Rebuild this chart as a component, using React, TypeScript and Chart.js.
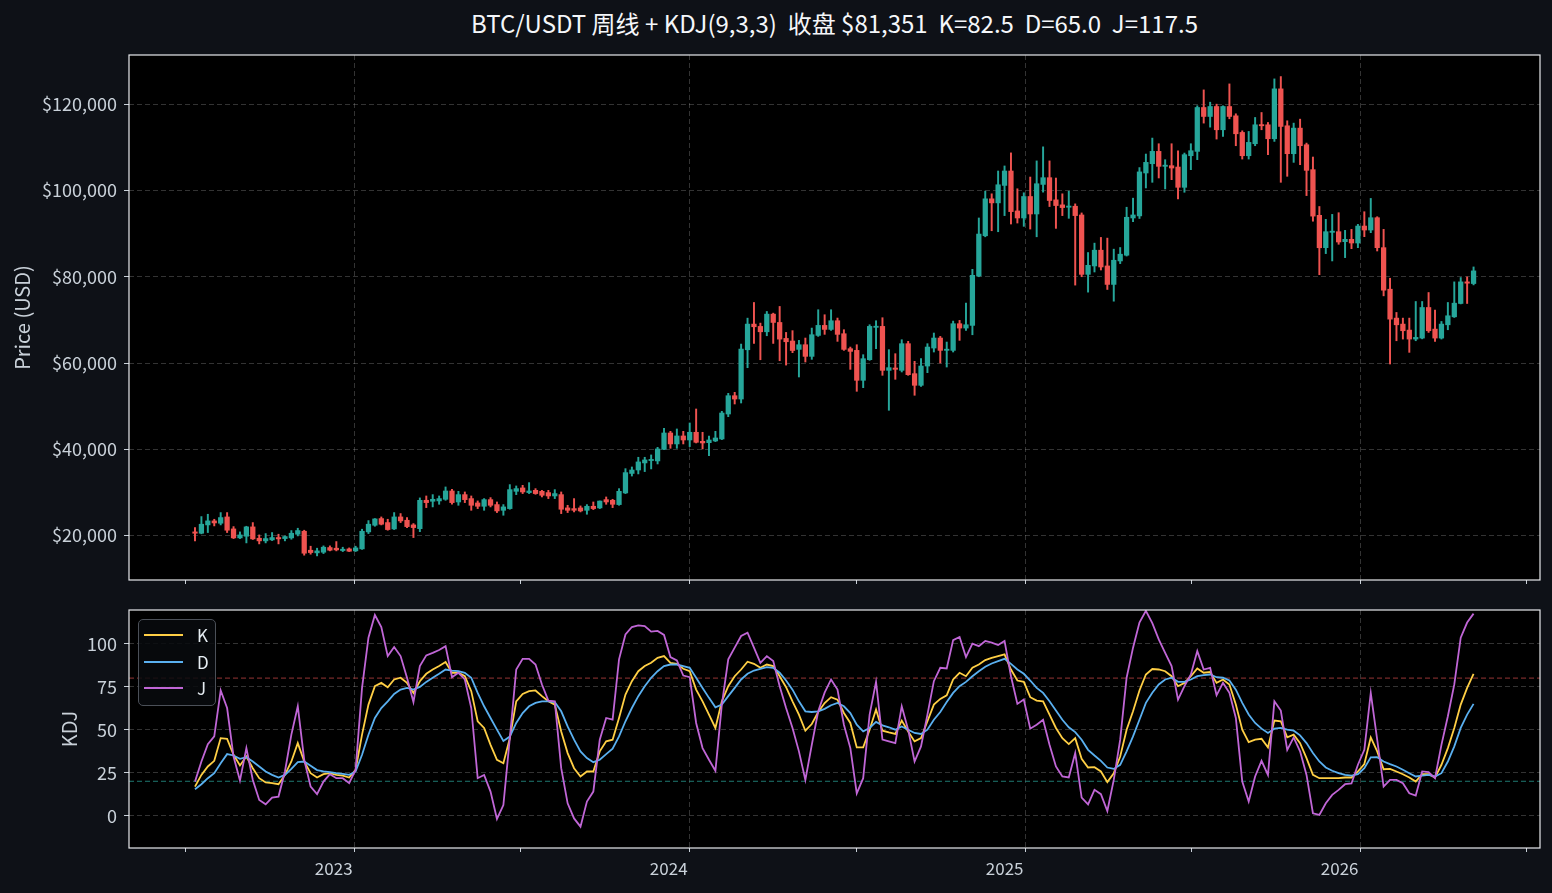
import { useEffect, useRef } from 'react'
import { Chart, registerables } from 'chart.js'

Chart.register(...registerables)

// weekly candles, first week starts Monday 2022-07-11
const FIRST_WEEK = Date.UTC(2022, 6, 11)
const WEEK_MS = 7 * 86400000

const opens = [
  20850, 20540, 22470, 23400, 22860, 24320, 21540, 19460, 19850, 22010,
  19380, 18770, 19000, 19540, 19300, 19460, 20310, 21000, 16600, 15990,
  16140, 17220, 17070, 16530, 16910, 16450, 16910, 20850, 22390, 23940,
  23010, 21540, 24320, 23550, 22470, 21600, 28180, 27950, 28030, 28410,
  30340, 27790, 29490, 28570, 27560, 26790, 28330, 27180, 25860, 26250,
  30260, 31040, 29960, 30490, 30260, 29960, 29180, 29490, 26410, 26250,
  26410, 25860, 26790, 26410, 28330, 28180, 27180, 29880, 34400, 35200,
  36840, 37380, 37300, 40000, 43780, 41240, 43090, 42160, 43940, 41850,
  41540, 41930, 42390, 48180, 52420, 51650, 63070, 69020, 68480, 67240,
  71330, 69400, 65700, 65100, 63160, 64240, 61540, 66400, 68720, 67790,
  69800, 66790, 63320, 62930, 55990, 60770, 68260, 68490, 58300, 58840,
  58300, 64480, 57530, 54830, 59300, 63470, 65790, 62930, 62930, 69110,
  68100, 68720, 80160, 89500, 98060, 97120, 101170, 104510, 95250, 93620,
  98600, 94550, 101400, 102960, 97820, 96660, 96110, 96340, 94320, 80550,
  82500, 86150, 82500, 78220, 83660, 84990, 93620, 94100, 104050, 106200,
  109060, 105590, 105740, 105430, 100730, 108050, 109060, 119230, 117150, 119460,
  114070, 119460, 117300, 113450, 108050, 110830, 115220, 115220, 111990, 123550,
  114990, 108520, 114450, 110600, 104820, 94240, 86740, 90290, 90440, 88130,
  88670, 87820, 91750, 90830, 93680, 86740, 77110, 70410, 69020, 67630,
  65550, 65780, 72870, 67860, 65780, 68860, 70710, 73800, 78810, 78420,
]
const highs = [
  21850, 24400, 24940, 23780, 25330, 25330, 22080, 20850, 22160, 23010,
  20150, 20460, 20700, 20310, 19920, 21160, 21700, 21240, 17530, 17070,
  17610, 17610, 18610, 17300, 17140, 17530, 21470, 23470, 23940, 24320,
  23780, 25330, 25100, 24170, 22780, 28730, 29180, 29490, 29180, 31270,
  30730, 30260, 30110, 29180, 28030, 28570, 28800, 27790, 27180, 31810,
  31500, 31650, 32270, 30880, 30490, 30490, 30650, 30110, 27020, 28570,
  26870, 27180, 27790, 28030, 28950, 28410, 30880, 35510, 35900, 38150,
  38150, 38690, 40460, 44860, 44170, 44710, 44170, 46100, 49340, 43940,
  43090, 44170, 48800, 52970, 53200, 64390, 70400, 74030, 69250, 71950,
  71560, 73110, 67090, 67500, 65250, 65790, 68100, 72350, 71190, 72350,
  70420, 67720, 63700, 64240, 61930, 68870, 69800, 70500, 63090, 62160,
  65400, 65020, 60390, 61000, 64480, 66950, 66170, 64860, 69720, 69880,
  73890, 81720, 93620, 99840, 99220, 104510, 105680, 108710, 100390, 99460,
  103110, 106850, 110110, 106850, 102880, 99220, 99840, 96890, 94790, 85610,
  87790, 89110, 88950, 86390, 86770, 96110, 98210, 105300, 108440, 112140,
  110830, 107130, 110830, 109210, 108670, 110830, 119620, 123310, 120460, 120000,
  119620, 124700, 117770, 113830, 113680, 116920, 118070, 115760, 125860, 126400,
  116150, 115610, 116530, 110980, 107750, 96280, 93300, 94450, 94840, 90750,
  90980, 92140, 95070, 98150, 93910, 90980, 79650, 71720, 70410, 70410,
  74260, 74260, 76340, 72260, 69630, 74030, 78810, 79810, 79960, 82270,
]
const lows = [
  18770, 20400, 20700, 22240, 22470, 20700, 19300, 19300, 18300, 19100,
  18070, 18300, 18840, 18070, 18770, 19150, 19920, 15450, 15680, 15290,
  15830, 16450, 16450, 16290, 16290, 16300, 16800, 20460, 22160, 22470,
  21240, 21390, 23010, 21850, 19540, 20900, 26480, 26640, 27250, 28180,
  27250, 27020, 27640, 25860, 26250, 25860, 26640, 25330, 24710, 26100,
  29490, 29730, 29730, 29570, 28950, 28570, 28570, 25090, 25330, 25480,
  25480, 24940, 26020, 26250, 27250, 26480, 27020, 29730, 33800, 34290,
  34830, 35450, 36600, 39900, 40230, 40230, 41240, 40620, 41470, 40080,
  38530, 41780, 42240, 47560, 50500, 50730, 58910, 64540, 60760, 66320,
  64540, 60530, 59520, 62400, 56760, 60230, 60850, 66170, 66640, 67560,
  65020, 62930, 58530, 53440, 54290, 60620, 63320, 57150, 49040, 56220,
  57920, 57150, 52520, 54600, 57760, 62550, 60000, 59070, 62550, 65250,
  67560, 66550, 80000, 89260, 90660, 90430, 94170, 92220, 92450, 91680,
  91050, 89260, 99610, 96270, 91210, 94170, 93540, 78060, 80000, 76430,
  81100, 81560, 77050, 74330, 83040, 84800, 92760, 93500, 100580, 101890,
  102890, 100350, 102500, 98040, 99580, 104820, 107130, 115610, 114680, 111910,
  112520, 116610, 110370, 107280, 107280, 110370, 114070, 108290, 111370, 101890,
  103280, 106510, 105970, 98810, 92870, 80480, 85360, 83660, 87520, 84430,
  86510, 86740, 89290, 90210, 85970, 75570, 59770, 65160, 65550, 62470,
  65160, 65600, 67090, 65010, 65550, 67710, 70560, 73700, 73800, 78110,
]
const closes = [
  20540, 22630, 23400, 22930, 24170, 21240, 19460, 20150, 22010, 19230,
  18770, 19300, 19540, 19230, 19770, 20540, 21160, 15910, 16060, 16450,
  17300, 16600, 16680, 16840, 16370, 17140, 21000, 22630, 23860, 22630,
  21390, 24320, 23400, 22080, 21850, 28170, 27640, 28410, 28570, 30340,
  27640, 29490, 28330, 27020, 26790, 28330, 27020, 25710, 26640, 30650,
  30880, 30110, 30340, 29730, 29340, 29180, 29730, 26100, 25860, 25860,
  25710, 26790, 26250, 28000, 27790, 27250, 30260, 34590, 35200, 37070,
  37530, 37530, 40080, 43780, 41240, 43090, 42160, 43940, 41620, 41470,
  42160, 42620, 48410, 52420, 51650, 63230, 69020, 68400, 67240, 71330,
  69400, 65540, 64930, 62900, 64240, 61540, 66560, 68720, 67790, 69800,
  66640, 63160, 62700, 55990, 61000, 68490, 68410, 58300, 58920, 58530,
  64480, 57300, 54830, 59300, 63700, 65790, 62930, 63090, 69110, 68100,
  68870, 80320, 89890, 98060, 97120, 101320, 104510, 95100, 93620, 98600,
  94550, 101560, 102960, 97670, 96500, 96030, 96340, 94170, 80550, 82650,
  86150, 82260, 78220, 83820, 85220, 93780, 94320, 104300, 106510, 109060,
  105590, 105740, 105200, 100730, 108290, 109210, 119230, 117150, 119460, 114070,
  119460, 117150, 113140, 108050, 111140, 115220, 114990, 111990, 123550, 114840,
  108520, 114450, 110370, 104660, 94050, 86720, 90440, 90440, 88050, 88670,
  87820, 91750, 90830, 93680, 86740, 76880, 70170, 68860, 67480, 65550,
  65940, 72870, 67480, 65780, 69020, 70950, 73870, 78810, 78500, 81351,
]

const kValues = [
  16.9, 23.7, 28.6, 31.9, 45.1, 44.7, 35.4, 29.2, 34.4, 27.6,
  21.8, 19.3, 18.9, 18.3, 23.7, 31.5, 42.2, 31.5, 24.7, 22.2,
  24.1, 24.7, 23.7, 23.3, 22.2, 26.7, 47.1, 64.6, 75.3, 77.2,
  74.7, 79.2, 80.2, 77.2, 71.4, 78.2, 82.5, 85.0, 87.0, 89.3,
  83.1, 83.1, 81.1, 72.4, 54.9, 51.0, 41.2, 32.5, 30.5, 45.0,
  66.5, 70.8, 72.4, 72.8, 69.5, 66.5, 64.6, 49.0, 36.4, 27.6,
  22.8, 25.7, 25.7, 37.4, 43.2, 44.2, 56.8, 70.4, 78.2, 84.0,
  87.0, 88.9, 91.8, 92.8, 88.9, 88.3, 85.4, 84.0, 73.3, 66.5,
  58.8, 51.0, 66.5, 75.3, 81.1, 85.0, 89.5, 88.3, 86.0, 87.9,
  87.0, 81.1, 74.7, 66.5, 58.8, 49.4, 53.3, 60.3, 65.5, 68.9,
  67.5, 59.7, 53.9, 39.7, 39.7, 50.0, 61.7, 49.4, 48.4, 47.5,
  55.3, 49.0, 43.2, 45.1, 54.9, 64.6, 67.9, 70.0, 79.2, 83.1,
  81.1, 86.0, 87.9, 90.5, 91.8, 92.8, 93.8, 85.0, 78.6, 77.8,
  68.9, 66.9, 66.5, 58.8, 51.0, 45.1, 41.6, 45.1, 33.1, 28.0,
  28.2, 25.7, 19.5, 24.7, 34.4, 50.0, 60.7, 72.8, 82.1, 85.3,
  85.0, 84.0, 81.1, 75.3, 77.2, 81.1, 85.6, 83.1, 83.5, 77.2,
  79.2, 76.3, 64.6, 50.0, 42.8, 44.2, 44.7, 39.7, 55.3, 54.9,
  45.5, 47.1, 42.2, 33.5, 23.7, 21.8, 21.8, 21.8, 21.8, 22.2,
  22.2, 25.7, 30.0, 45.5, 37.4, 27.0, 27.2, 25.7, 24.1, 22.2,
  19.8, 24.1, 24.1, 22.2, 29.6, 39.3, 51.0, 64.6, 74.3, 82.5,
]
const dValues = [
  15.4, 18.3, 21.8, 24.7, 30.5, 35.8, 35.0, 33.1, 34.0, 31.5,
  28.6, 25.7, 23.7, 22.2, 23.7, 27.2, 31.1, 31.5, 29.0, 26.5,
  25.7, 25.3, 24.7, 24.3, 23.7, 25.7, 35.4, 47.1, 56.8, 62.6,
  66.5, 70.8, 73.3, 74.3, 73.3, 74.9, 77.8, 80.2, 82.5, 85.0,
  84.4, 84.0, 83.1, 80.2, 71.4, 63.6, 56.8, 50.0, 43.4, 46.0,
  53.9, 59.7, 63.6, 65.6, 66.5, 66.5, 66.1, 60.7, 51.9, 44.2,
  37.4, 33.5, 31.1, 32.5, 35.8, 38.9, 46.1, 54.9, 62.6, 69.5,
  75.3, 80.2, 84.0, 87.0, 87.9, 87.9, 87.0, 86.0, 80.2, 74.3,
  68.5, 63.0, 64.6, 69.5, 74.3, 79.2, 82.5, 84.4, 85.4, 86.4,
  86.0, 83.1, 78.6, 73.3, 66.5, 60.7, 60.3, 60.7, 62.1, 64.2,
  65.6, 63.6, 59.7, 52.9, 49.0, 51.0, 54.5, 52.5, 51.4, 50.0,
  51.9, 50.0, 48.1, 47.5, 50.0, 55.8, 60.3, 66.1, 71.4, 75.3,
  77.8, 81.1, 84.0, 86.6, 88.5, 89.9, 91.2, 88.3, 85.0, 82.5,
  78.6, 74.3, 71.4, 66.5, 61.1, 55.8, 51.4, 48.6, 44.2, 38.3,
  35.0, 31.9, 28.0, 27.2, 29.6, 37.4, 46.1, 55.8, 65.6, 71.5,
  76.3, 79.2, 80.2, 77.8, 77.8, 79.2, 81.1, 81.7, 82.1, 80.5,
  80.2, 78.6, 73.3, 65.6, 58.8, 53.9, 50.6, 48.1, 50.6, 51.0,
  50.0, 49.4, 46.7, 42.2, 36.4, 31.5, 28.0, 26.1, 24.7, 23.7,
  23.3, 24.1, 27.6, 33.9, 34.0, 31.5, 30.0, 28.6, 26.7, 24.7,
  22.8, 23.3, 23.7, 22.8, 24.7, 31.5, 40.3, 51.0, 58.8, 65.0,
]
const jValues = [
  19.8, 31.5, 41.6, 46.1, 72.8, 62.6, 34.4, 20.4, 39.3, 20.8,
  9.1, 6.6, 10.5, 11.1, 25.7, 47.1, 63.6, 32.5, 16.9, 12.5,
  19.8, 24.1, 21.8, 21.8, 18.9, 26.7, 74.3, 103.5, 116.7, 109.7,
  92.8, 98.1, 92.8, 80.2, 66.1, 87.0, 93.2, 94.7, 96.3, 98.6,
  80.5, 83.1, 79.2, 62.6, 21.8, 23.7, 14.0, -1.9, 6.2, 45.0,
  85.0, 91.2, 91.2, 87.9, 76.3, 66.9, 66.5, 27.6, 7.2, -1.6,
  -6.4, 8.2, 14.0, 44.2, 56.8, 55.8, 90.9, 105.4, 109.7, 110.7,
  110.3, 107.0, 107.4, 105.1, 92.2, 90.3, 81.5, 80.5, 53.9, 39.3,
  32.5, 26.1, 64.6, 90.9, 97.7, 104.5, 106.4, 97.7, 88.9, 92.8,
  89.9, 75.3, 62.6, 51.0, 37.4, 20.8, 41.2, 60.7, 71.5, 79.2,
  73.3, 52.9, 39.3, 13.0, 21.8, 58.8, 77.8, 44.2, 43.2, 42.2,
  63.6, 50.0, 31.5, 40.3, 58.8, 78.2, 86.0, 85.6, 102.1, 103.9,
  92.2, 100.0, 98.6, 101.6, 100.6, 99.2, 101.6, 81.1, 65.0, 67.5,
  50.6, 52.9, 55.8, 41.2, 28.6, 22.8, 22.2, 36.4, 10.5, 6.6,
  15.0, 12.5, 2.7, 20.8, 44.2, 80.2, 97.7, 112.3, 119.1, 112.0,
  102.5, 94.7, 87.0, 67.5, 75.3, 82.1, 95.7, 85.0, 86.0, 70.0,
  77.2, 71.4, 56.8, 19.8, 8.2, 22.8, 31.9, 23.7, 66.5, 61.1,
  38.3, 45.5, 37.4, 23.7, 1.4, 0.4, 7.2, 12.1, 15.0, 18.3,
  18.7, 29.6, 38.3, 71.4, 44.2, 16.9, 20.8, 20.8, 18.9, 13.0,
  11.7, 25.7, 25.3, 21.8, 41.2, 57.8, 76.3, 103.5, 112.3, 117.5,
]

const priceTicks = [20000, 40000, 60000, 80000, 100000, 120000]
const kdjTicks = [0, 25, 50, 75, 100]
const kdjLevels = [80, 20]
const yearTicks = [2023, 2024, 2025, 2026]
const midYearTicks = [2022, 2023, 2024, 2025, 2026]

const TITLE = 'BTC/USDT 周线 + KDJ(9,3,3)  收盘 $81,351  K=82.5  D=65.0  J=117.5'

const FONT = "'Noto Sans CJK SC', 'Noto Sans', sans-serif"
const PAGE_BG = '#0e1117'
const TEXT = '#c9d1d9'
const FRAME = '#e8eaed'
const GRID = 'rgba(255,255,255,0.2)'
const UP = '#26a69a'
const DOWN = '#ef5350'
const K_COLOR = '#ffcf45'
const D_COLOR = '#5ab0f0'
const J_COLOR = '#c066d6'
const LEVEL_COLORS = ['rgba(200,70,70,0.75)', 'rgba(40,160,150,0.75)']

const X_MIN = -10.27
const X_MAX = 209.34

function weekPos(t: number) {
  return (t - FIRST_WEEK) / WEEK_MS
}

const xTicks = [
  ...yearTicks.map((y) => ({ value: weekPos(Date.UTC(y, 0, 1)), label: String(y), major: true })),
  ...midYearTicks.map((y) => ({ value: weekPos(Date.UTC(y, 6, 1)), label: '', major: false })),
].sort((a, b) => a.value - b.value)

function xScale(showLabels: boolean, height: number) {
  return {
    type: 'linear' as const,
    min: X_MIN,
    max: X_MAX,
    offset: false,
    afterBuildTicks: (s: any) => {
      s.ticks = xTicks.map((t) => ({ value: t.value }))
    },
    afterFit: (s: any) => {
      s.height = height
      s.paddingLeft = 0
      s.paddingRight = 0
    },
    ticks: {
      display: showLabels,
      autoSkip: false,
      maxRotation: 0,
      callback: (_v: any, i: number) => xTicks[i]?.label ?? '',
      color: TEXT,
      font: { family: FONT, size: 17 },
      labelOffset: -21,
      padding: 6,
    },
    grid: {
      offset: false,
      color: (c: any) => (xTicks[c.index]?.major ? GRID : 'rgba(0,0,0,0)'),
      tickColor: TEXT,
      tickLength: 4,
      lineWidth: 1,
    },
    border: { display: false, dash: [5, 3] },
  }
}

function yScale(ticks: number[], min: number, max: number, label: string, titlePad: number, fmt: (v: number) => string) {
  return {
    type: 'linear' as const,
    min,
    max,
    afterBuildTicks: (s: any) => {
      s.ticks = ticks.map((v) => ({ value: v }))
    },
    afterFit: (s: any) => {
      s.width = 129
      s.paddingTop = 0
      s.paddingBottom = 0
    },
    ticks: {
      callback: (v: any) => fmt(Number(v)),
      color: TEXT,
      font: { family: FONT, size: 18 },
      padding: 7,
    },
    grid: { color: GRID, tickColor: TEXT, tickLength: 5, lineWidth: 1 },
    border: { display: false, dash: [5, 3] },
    title: {
      display: true,
      text: label,
      color: TEXT,
      font: { family: FONT, size: 20 },
      padding: { top: titlePad, bottom: 0 },
    },
  }
}

const panelPlugin = {
  id: 'panel',
  beforeDraw(chart: any) {
    const { ctx, chartArea: a } = chart
    ctx.save()
    ctx.fillStyle = '#000000'
    ctx.fillRect(a.left, a.top, a.right - a.left, a.bottom - a.top)
    ctx.restore()
  },
  afterDraw(chart: any) {
    const { ctx, chartArea: a } = chart
    ctx.save()
    ctx.strokeStyle = FRAME
    ctx.lineWidth = 1.2
    ctx.strokeRect(a.left, a.top, a.right - a.left, a.bottom - a.top)
    ctx.restore()
  },
}

const levelPlugin = {
  id: 'levels',
  beforeDatasetsDraw(chart: any) {
    const { ctx, chartArea: a, scales } = chart
    ctx.save()
    ctx.lineWidth = 1
    ctx.setLineDash([5, 3])
    kdjLevels.forEach((lv, i) => {
      const y = scales.y.getPixelForValue(lv)
      ctx.strokeStyle = LEVEL_COLORS[i]
      ctx.beginPath()
      ctx.moveTo(a.left, y)
      ctx.lineTo(a.right, y)
      ctx.stroke()
    })
    ctx.restore()
  },
}

function PriceChart() {
  const ref = useRef<HTMLCanvasElement | null>(null)
  useEffect(() => {
    if (!ref.current) return
    const colors = closes.map((c, i) => (c >= opens[i] ? UP : DOWN))
    const chart = new Chart(ref.current, {
      type: 'bar',
      data: {
        datasets: [
          {
            data: opens.map((o, i) => ({ x: i, y: [o, closes[i]] })) as any,
            backgroundColor: colors,
            barThickness: 4.6,
            minBarLength: 1.2,
            grouped: false,
          },
          {
            data: lows.map((l, i) => ({ x: i, y: [l, highs[i]] })) as any,
            backgroundColor: colors,
            barThickness: 1.3,
            grouped: false,
          },
        ],
      },
      options: {
        animation: false,
        responsive: false,
        events: [],
        layout: { padding: { top: 15, right: 12, bottom: 0, left: 0 } },
        plugins: { legend: { display: false }, tooltip: { enabled: false } },
        scales: {
          x: xScale(false, 20) as any,
          y: yScale(priceTicks, 9700, 131400, 'Price (USD)', 10, (v) => '$' + v.toLocaleString('en-US')) as any,
        },
      },
      plugins: [panelPlugin],
    })
    return () => chart.destroy()
  }, [])
  return <canvas ref={ref} width={1552} height={560} style={{ position: 'absolute', left: 0, top: 40 }} />
}

function KdjChart() {
  const ref = useRef<HTMLCanvasElement | null>(null)
  useEffect(() => {
    if (!ref.current) return
    const series = (vals: number[]) => vals.map((v, i) => ({ x: i, y: v }))
    const line = (label: string, vals: number[], color: string) => ({
      label,
      data: series(vals),
      borderColor: color,
      backgroundColor: color,
      borderWidth: 1.8,
      pointRadius: 0,
      tension: 0,
    })
    const chart = new Chart(ref.current, {
      type: 'line',
      data: {
        datasets: [
          line('J', jValues, J_COLOR),
          line('D', dValues, D_COLOR),
          line('K', kValues, K_COLOR),
        ],
      },
      options: {
        animation: false,
        responsive: false,
        events: [],
        layout: { padding: { top: 10, right: 12, bottom: 0, left: 0 } },
        plugins: { legend: { display: false }, tooltip: { enabled: false } },
        scales: {
          x: xScale(true, 45) as any,
          y: yScale(kdjTicks, -18.8, 119.6, 'KDJ', 57, (v) => String(v)) as any,
        },
      },
      plugins: [panelPlugin, levelPlugin],
    })
    return () => chart.destroy()
  }, [])
  return <canvas ref={ref} width={1552} height={293} style={{ position: 'absolute', left: 0, top: 600 }} />
}

function Legend() {
  const items = [
    { label: 'K', color: K_COLOR },
    { label: 'D', color: D_COLOR },
    { label: 'J', color: J_COLOR },
  ]
  return (
    <div
      style={{
        position: 'absolute',
        left: 138,
        top: 619,
        width: 78,
        height: 87,
        boxSizing: 'border-box',
        border: '1px solid #4b5058',
        borderRadius: 5,
        background: 'rgba(8,10,14,0.85)',
      }}
    >
      {items.map((it, i) => (
        <div key={it.label} style={{ position: 'absolute', left: 0, top: 4 + i * 26.5, height: 22, width: 78 }}>
          <div style={{ position: 'absolute', left: 5, top: 10, width: 39, height: 2, background: it.color }} />
          <div
            style={{
              position: 'absolute',
              left: 58,
              top: 0,
              lineHeight: '22px',
              fontSize: 17,
              fontFamily: FONT,
              color: '#e6edf3',
            }}
          >
            {it.label}
          </div>
        </div>
      ))}
    </div>
  )
}

export default function App() {
  return (
    <div style={{ position: 'fixed', left: 0, top: 0, width: 1552, height: 893, background: PAGE_BG, overflow: 'hidden' }}>
      <div
        style={{
          position: 'absolute',
          left: 129,
          width: 1411,
          top: 7,
          textAlign: 'center',
          whiteSpace: 'pre',
          fontFamily: FONT,
          fontSize: 24,
          lineHeight: '32px',
          color: '#f5f7fa',
        }}
      >
        {TITLE}
      </div>
      <PriceChart />
      <KdjChart />
      <Legend />
    </div>
  )
}
